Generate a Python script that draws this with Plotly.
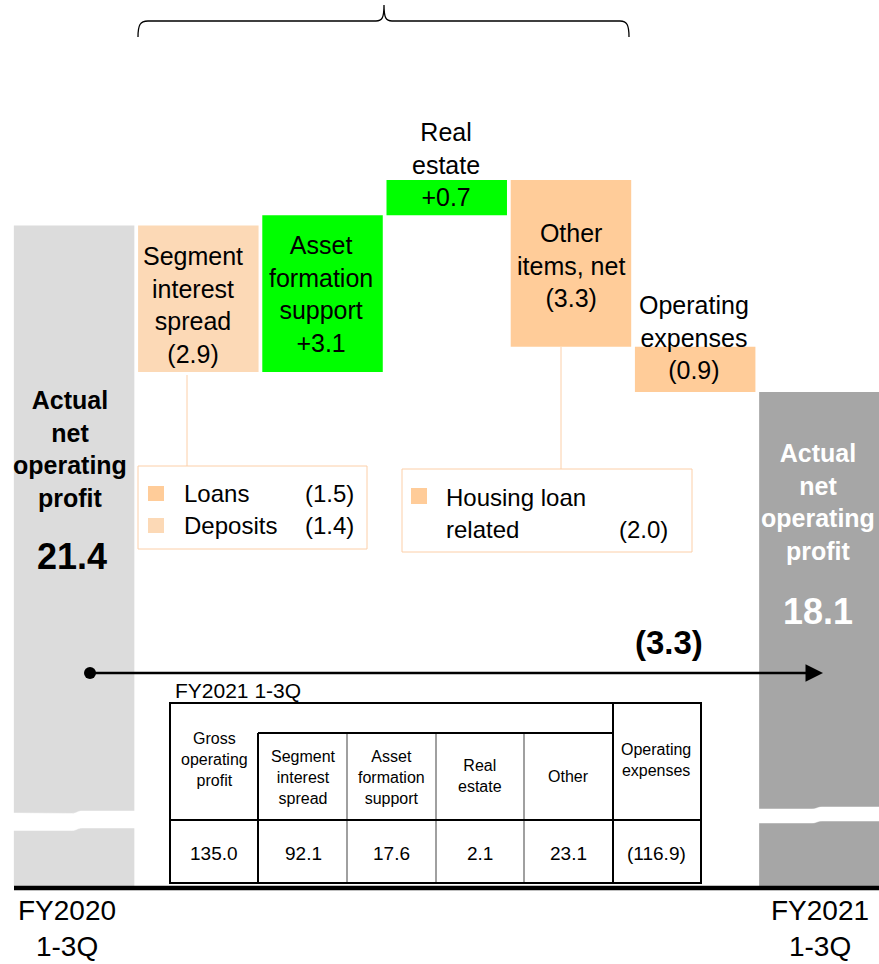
import plotly.graph_objects as go

FONT = "Arial, Liberation Sans, sans-serif"

# ---- data ----
start_value = 21.4
end_value = 18.1
step_names = ["Segment<br>interest<br>spread", "Asset<br>formation<br>support",
              "Real<br>estate", "Other<br>items, net", "Operating<br>expenses"]
step_values = [-2.9, 3.1, 0.7, -3.3, -0.9]
total_name = "Actual<br>net<br>operating<br>profit"
period_labels = ["FY2020<br>1-3Q", "FY2021<br>1-3Q"]

spread_items = ["Loans", "Deposits"]
spread_values = [-1.5, -1.4]
other_items = ["Housing loan", "related"]
other_values = [-2.0]

table_title = "FY2021 1-3Q"
table_headers = ["Gross<br>operating<br>profit", "Segment<br>interest<br>spread",
                 "Asset<br>formation<br>support", "Real<br>estate", "Other",
                 "Operating<br>expenses"]
table_values = [135.0, 92.1, 17.6, 2.1, 23.1, -116.9]

# ---- styles ----
BAR_COLORS = ["#DCDCDC", "#FCD9B6", "#00FF00", "#00FF00", "#FFCC99", "#FFCC99", "#A6A6A6"]
PEACH_DARK = "#FFCC99"
PEACH_LIGHT = "#FCD9B6"
PEACH_LINE = "#FCCFA8"

FIG_W, FIG_H = 879, 964
L, T, PW, PH = 12, 0, 867, 886


def px(x):
    return (x - L) / PW


def py(y):
    return 1 - (y - T) / PH


def fmt(v):
    return f"+{v:.1f}" if v > 0 else f"({-v:.1f})"


# waterfall bases from the data
xs = list(range(len(step_values) + 2))
heights = [start_value]
bases = [0]
running = start_value
for v in step_values:
    bases.append(running + min(v, 0))
    heights.append(abs(v))
    running += v
heights.append(end_value)
bases.append(0)

fig = go.Figure(go.Bar(
    x=xs, y=heights, base=bases, width=0.97,
    marker=dict(color=BAR_COLORS, line=dict(width=0)),
    hoverinfo="skip",
))

ann = []


def note(text, x, y, size, color="black", xanchor="center"):
    ann.append(dict(text=text, x=px(x), y=py(y), xref="paper", yref="paper",
                    xanchor=xanchor, yanchor="middle", showarrow=False,
                    font=dict(size=size, color=color, family=FONT)))


shapes = []


def rect(x0, y0, x1, y1, fill=None, line_color=None, width=1):
    shapes.append(dict(type="rect", xref="paper", yref="paper",
                       x0=px(x0), x1=px(x1), y0=py(y1), y1=py(y0),
                       fillcolor=fill or "rgba(0,0,0,0)",
                       line=dict(color=line_color or "rgba(0,0,0,0)", width=width if line_color else 0)))


def seg(x0, y0, x1, y1, color="black", width=1):
    shapes.append(dict(type="line", xref="paper", yref="paper",
                       x0=px(x0), x1=px(x1), y0=py(y0), y1=py(y1),
                       line=dict(color=color, width=width)))


def path(points, fill=None, color="black", width=1):
    d = ""
    for cmd, coords in points:
        d += cmd + " ".join(f"{px(a):.5f},{py(b):.5f}" for a, b in coords) + " "
    shapes.append(dict(type="path", xref="paper", yref="paper", path=d.strip(),
                       fillcolor=fill or "rgba(0,0,0,0)",
                       line=dict(color=color, width=width)))


# brace over the gross profit items
path([("M", [(138, 37)]), ("C", [(138, 25), (140, 21), (148, 21)]), ("L", [(376, 21)]),
      ("C", [(382, 21), (384, 18), (384, 5)]), ("C", [(384, 18), (386, 21), (392, 21)]),
      ("L", [(620, 21)]), ("C", [(627, 21), (629, 25), (629, 37)])], width=1.3)

# broken axis marks
path([("M", [(13, 813)]), ("L", [(72, 813.5)]), ("C", [(77, 813.5), (77, 811), (82, 811)]),
      ("L", [(137, 811)]), ("L", [(137, 828)]), ("L", [(82, 828)]),
      ("C", [(77, 828), (77, 830.5), (72, 830.5)]), ("L", [(13, 830.5)]), ("Z", [])],
     fill="white", color="white", width=0.5)
path([("M", [(757, 809)]), ("L", [(812, 809)]), ("C", [(817, 809), (817, 807), (822, 807)]),
      ("L", [(880, 807)]), ("L", [(880, 821)]), ("L", [(822, 821)]),
      ("C", [(817, 821), (817, 823), (812, 823)]), ("L", [(757, 823)]), ("Z", [])],
     fill="white", color="white", width=0.5)

# baseline
seg(14, 888, 879, 888, width=4.5)

# bar labels
note(f"<b>{total_name}</b>", 70, 449, 25)
note(f"<b>{start_value:.1f}</b>", 72, 556, 36)
note(f"<b>{total_name}</b>", 818, 502, 25, color="white")
note(f"<b>{end_value:.1f}</b>", 818, 611, 36, color="white")

label_pos = [(193, 305), (321, 294), (446, 164), (571, 265), (694, 337)]
for name, v, (lx, ly) in zip(step_names, step_values, label_pos):
    note(f"{name}<br>{fmt(v)}", lx, ly, 25)

# breakdown boxes
seg(187, 375, 187, 466, color=PEACH_LINE)
seg(561, 347, 561, 469, color=PEACH_LINE)
rect(138, 466, 367, 549, fill="white", line_color=PEACH_LINE)
rect(402, 469, 692, 552, fill="white", line_color=PEACH_LINE)

for i, (item, v) in enumerate(zip(spread_items, spread_values)):
    yc = 493 + i * 32
    rect(148, yc - 7, 164, yc + 8, fill=PEACH_DARK if i == 0 else PEACH_LIGHT)
    note(item, 182, yc, 24, xanchor="left")
    note(fmt(v), 356, yc, 24, xanchor="right")

rect(411, 488, 427, 504, fill=PEACH_DARK)
note(other_items[0], 444, 497, 24, xanchor="left")
note(other_items[1], 444, 529, 24, xanchor="left")
note(fmt(other_values[0]), 670, 529, 24, xanchor="right")

# overall change arrow
shapes.append(dict(type="circle", xref="paper", yref="paper",
                   x0=px(84), x1=px(96), y0=py(679), y1=py(667),
                   fillcolor="black", line=dict(color="black", width=0)))
ann.append(dict(text="", x=px(823), y=py(673), xref="paper", yref="paper",
                ax=-731, ay=0, showarrow=True, arrowhead=2, arrowsize=1.4,
                arrowwidth=2.5, arrowcolor="black", standoff=0))
note(f"<b>{fmt(end_value - start_value)}</b>", 669, 642, 33)

# FY2021 1-3Q table
note(table_title, 173, 690, 21, xanchor="left")
col_x = [214, 303, 391, 480, 568, 656]
head_y = [759, 777, 777, 776, 776, 760]
for gx in (347, 436, 524):
    seg(gx, 733, gx, 883, color="#A0A0A0", width=2)
rect(170, 703, 701, 883, line_color="black", width=2)
seg(613, 703, 613, 883, width=2)
seg(258, 733, 258, 883, width=2)
seg(258, 733, 613, 733, width=2)
seg(170, 820, 701, 820, width=2)
for h, v, cx, hy in zip(table_headers, table_values, col_x, head_y):
    note(h, cx, hy, 16)
    note(fmt(v) if v < 0 else f"{v:.1f}", cx, 853, 19)

# period labels
for lab, cx in zip(period_labels, [67, 820]):
    note(lab, cx, 928, 28)

v_per_px = 1 / 50.5
fig.update_layout(
    width=FIG_W, height=FIG_H,
    margin=dict(l=L, r=FIG_W - L - PW, t=T, b=FIG_H - T - PH, pad=0),
    paper_bgcolor="white", plot_bgcolor="white",
    showlegend=False,
    xaxis=dict(range=[-0.5, 6.48], visible=False, fixedrange=True),
    yaxis=dict(range=[22.3 - (886 - 180) * v_per_px, 22.3 + 180 * v_per_px],
               visible=False, fixedrange=True),
    shapes=shapes, annotations=ann,
    font=dict(family=FONT, color="black"),
)

fig.write_html("out.html", config={"displayModeBar": False},
               post_script="document.body.style.margin='0';document.body.style.overflow='hidden';")
